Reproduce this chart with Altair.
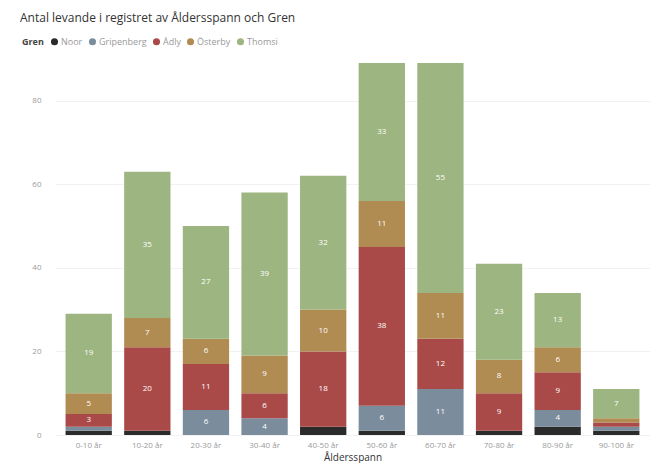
import altair as alt
import pandas as pd

ages = ["0-10 år", "10-20 år", "20-30 år", "30-40 år", "40-50 år",
        "50-60 år", "60-70 år", "70-80 år", "80-90 år", "90-100 år"]
branches = ["Noor", "Gripenberg", "Ådly", "Österby", "Thomsi"]
colors = ["#2b2b2b", "#7b8c9c", "#a94a48", "#b08b52", "#9db580"]

noor = [1, 1, 0, 0, 2, 1, 0, 1, 2, 1]
gripenberg = [1, 0, 6, 4, 0, 6, 11, 0, 4, 1]
adly = [3, 20, 11, 6, 18, 38, 12, 9, 9, 1]
osterby = [5, 7, 6, 9, 10, 11, 11, 8, 6, 1]
thomsi = [19, 35, 27, 39, 32, 33, 55, 23, 13, 7]

series = [noor, gripenberg, adly, osterby, thomsi]
rows = []
for bi, (b, vals) in enumerate(zip(branches, series)):
    for a, v in zip(ages, vals):
        if v > 0:
            rows.append({"Åldersspann": a, "Gren": b, "idx": bi, "Antal": v})
df = pd.DataFrame(rows)

FONT = "Open Sans"

base = alt.Chart(df)

bars = base.mark_bar().encode(
    x=alt.X("Åldersspann:N", sort=ages,
            scale=alt.Scale(paddingInner=0.21, paddingOuter=0.18),
            axis=alt.Axis(labelAngle=0, labelFontSize=8, labelColor="#9a9a9a",
                          titleFontSize=10, titleColor="#333333", titleFontWeight="normal",
                          domain=False, ticks=False, labelPadding=6, titlePadding=3,
                          labelFont=FONT, titleFont=FONT)),
    y=alt.Y("sum(Antal):Q", stack="zero",
            scale=alt.Scale(domain=[0, 89], nice=False),
            axis=alt.Axis(values=[0, 20, 40, 60, 80], title=None, labelFontSize=8,
                          labelColor="#9a9a9a", domain=False, ticks=False,
                          gridColor="#f2f2f2", labelPadding=14, labelFont=FONT)),
    color=alt.Color("Gren:N", scale=alt.Scale(domain=branches, range=colors),
                    legend=alt.Legend(orient="none", legendX=-33, legendY=-26,
                                      direction="horizontal", title="Gren",
                                      titleOrient="left", titleFontSize=9,
                                      titleColor="#444444", labelFontSize=9,
                                      labelColor="#9a9a9a", symbolType="circle",
                                      symbolSize=50, columnPadding=5,
                                      labelOffset=2, titlePadding=6,
                                      labelFont=FONT, titleFont=FONT)),
    order=alt.Order("idx:Q", sort="ascending"),
)

labels = base.transform_stack(
    stack="Antal", groupby=["Åldersspann"], sort=[alt.SortField("idx", order="ascending")],
    as_=["y0", "y1"]
).transform_calculate(
    mid="(datum.y0 + datum.y1) / 2"
).transform_filter(
    "datum.Antal >= 3"
).mark_text(color="white", fontSize=8, font=FONT, baseline="middle").encode(
    x=alt.X("Åldersspann:N", sort=ages),
    y=alt.Y("mid:Q"),
    text=alt.Text("Antal:Q"),
)

chart = alt.layer(bars, labels).properties(
    width=595, height=372,
    title=alt.TitleParams("Antal levande i registret av Åldersspann och Gren",
                          anchor="start", dx=-2, offset=12, fontSize=12,
                          fontWeight="normal", color="#333333", font=FONT),
    padding={"left": 47, "top": 55, "right": 10, "bottom": 30},
    autosize=alt.AutoSizeParams(type="none"),
).configure_view(stroke=None)

chart.save("out.html", embed_options={"renderer": "svg", "actions": False})
